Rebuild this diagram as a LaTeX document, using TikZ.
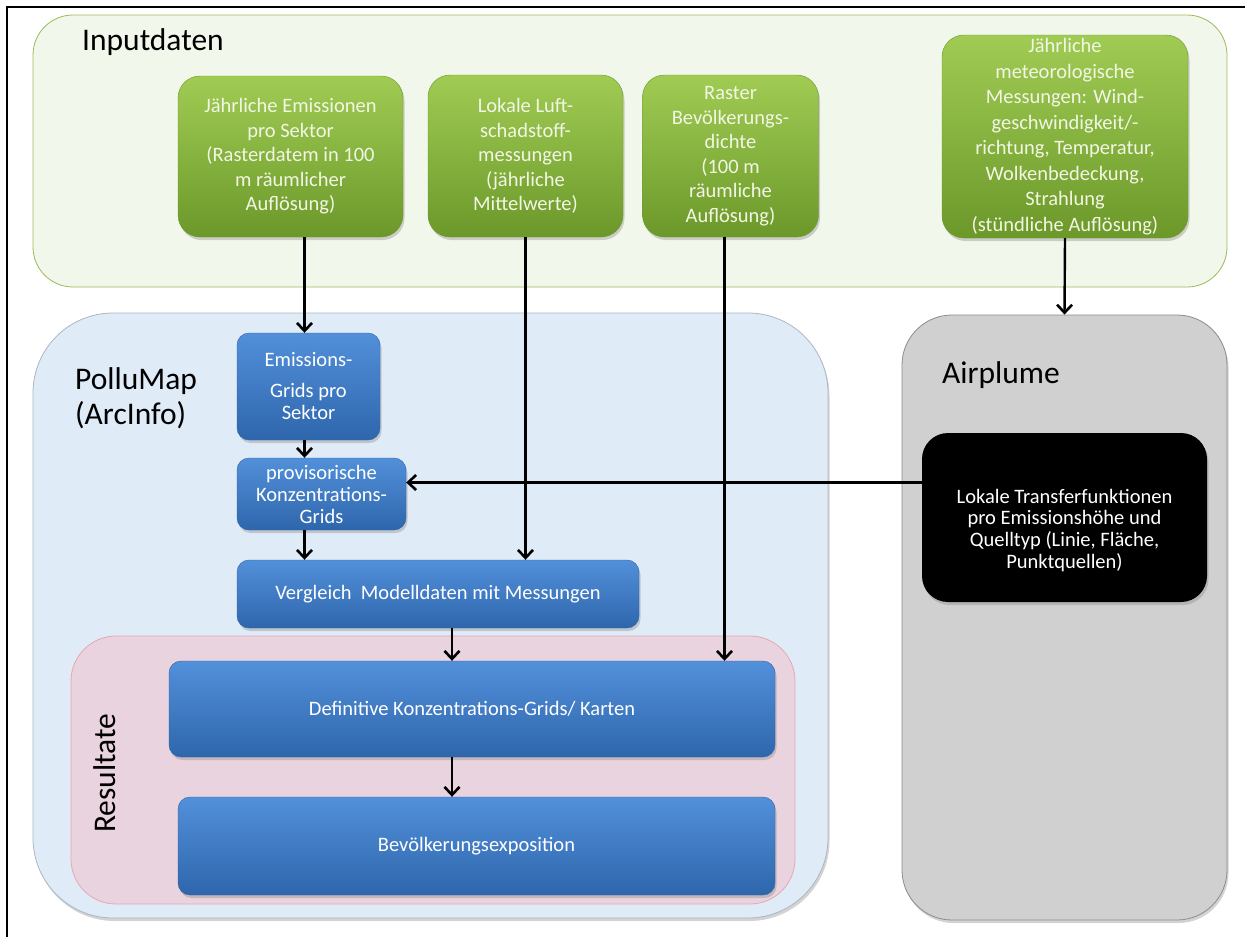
\documentclass[tikz,border=0pt]{standalone}
\usepackage{fontspec}
\setmainfont{Carlito}
\usepackage{tikz}
\usetikzlibrary{arrows.meta,shadows,backgrounds}
\definecolor{inCol}{RGB}{155,187,89}
\definecolor{inFill}{RGB}{242,247,236}
\definecolor{grnTop}{RGB}{160,204,84}
\definecolor{grnBot}{RGB}{108,152,42}
\definecolor{grnTxt}{RGB}{242,246,228}
\definecolor{bluTop}{RGB}{82,144,218}
\definecolor{bluBot}{RGB}{46,102,172}
\definecolor{bluLine}{RGB}{52,98,160}
\definecolor{pmFill}{RGB}{224,235,248}
\definecolor{pmLine}{RGB}{172,182,196}
\definecolor{apFill}{RGB}{208,208,208}
\definecolor{apLine}{RGB}{140,140,140}
\definecolor{resFill}{RGB}{233,211,222}
\definecolor{resLine}{RGB}{229,168,178}
\tikzset{
  panel/.style={draw, thick, inner sep=0pt, rounded corners=40pt},
  softshadow/.style={drop shadow={shadow xshift=1.5pt, shadow yshift=-3pt, opacity=0.35}},
  indata/.style={rounded corners=22pt, draw=grnBot, top color=grnTop, bottom color=grnBot,
                 text=grnTxt, align=center, inner sep=0pt, softshadow,
                 font=\fontsize{20.5}{24.5}\selectfont},
  calc/.style={rounded corners=12pt, draw=bluLine, top color=bluTop, bottom color=bluBot,
               text=white, align=center, inner sep=0pt, softshadow,
               font=\fontsize{20.5}{22}\selectfont},
  tfbox/.style={rounded corners=26pt, fill=black, text=white, align=center, inner sep=0pt,
                softshadow, font=\fontsize{20.5}{21.7}\selectfont},
  title/.style={font=\fontsize{31.5}{35}\selectfont, inner sep=0pt, align=left},
  arr/.style={-{Straight Barb[length=8pt,width=15pt,line width=2.6pt]}, line width=2.4pt},
}
\begin{document}
\begin{tikzpicture}[x=1pt,y=-1pt]
  \useasboundingbox (0,0) rectangle (1245,937);
  % Rahmen (oben, links)
  \draw[line width=2pt] (1245,7) -- (7,7) -- (7,937);

  % Gruppen
  \node[panel, draw=inCol, fill=inFill, minimum width=1194pt, minimum height=272pt] (inGrp) at (630,151) {};
  \node[panel, rounded corners=80pt, draw=pmLine, fill=pmFill, softshadow,
        minimum width=795pt, minimum height=605pt] (pmGrp) at (430.5,615.5) {};
  \node[panel, rounded corners=50pt, draw=apLine, fill=apFill, softshadow,
        minimum width=325pt, minimum height=605pt] (apGrp) at (1064.5,617.5) {};
  \node[panel, rounded corners=45pt, draw=resLine, fill=resFill,
        minimum width=724pt, minimum height=268pt] (resGrp) at (433,770) {};

  \node[title, anchor=west] (inLbl) at (82,42) {Inputdaten};
  \node[title, anchor=west] (pmLbl) at (75,398) {PolluMap\\(ArcInfo)};
  \node[title, anchor=west] (apLbl) at (942,375) {Airplume};
  \node[title, rotate=90] (resLbl) at (105,773) {Resultate};

  % Inputdaten
  \node[indata, minimum width=225pt, minimum height=161pt] (emiIn) at (290.5,156.5)
    {Jährliche Emissionen\\pro Sektor\\(Rasterdatem in 100\\m räumlicher\\Auflösung)};
  \node[indata, minimum width=195pt, minimum height=162pt] (luftIn) at (525.5,156)
    {Lokale Luft-\\schadstoff-\\messungen\\(jährliche\\Mittelwerte)};
  \node[indata, minimum width=176pt, minimum height=162pt] (rasterIn) at (730.5,156)
    {Raster\\Bevölkerungs-\\dichte\\(100 m\\räumliche\\Auflösung)};
  \node[indata, font=\fontsize{20.5}{25.5}\selectfont, minimum width=246pt, minimum height=203pt] (meteoIn) at (1065,136.5)
    {Jährliche\\meteorologische\\Messungen: Wind-\\geschwindigkeit/-\\richtung, Temperatur,\\Wolkenbedeckung,\\Strahlung\\(stündliche Auflösung)};

  % PolluMap
  \node[calc, minimum width=143pt, minimum height=107pt] (emiGrid) at (308.5,386.5)
    {Emissions-\\[9pt]Grids pro\\Sektor};
  \node[calc, minimum width=169pt, minimum height=72pt] (provGrid) at (321.5,494)
    {provisorische\\Konzentrations-\\Grids};
  \node[calc, minimum width=402pt, minimum height=68pt] (vergl) at (438,594)
    {Vergleich\ \ Modelldaten mit Messungen};
  \node[calc, minimum width=606pt, minimum height=96pt] (defGrid) at (472,709)
    {Definitive Konzentrations-Grids/ Karten};
  \node[calc, minimum width=597pt, minimum height=98pt] (expo) at (476.5,846)
    {Bevölkerungsexposition};

  % Airplume
  \node[tfbox, minimum width=285pt, minimum height=169pt] (transfer) at (1064.5,517.5)
    {\\[18pt]Lokale Transferfunktionen\\pro Emissionshöhe und\\Quelltyp (Linie, Fläche,\\Punktquellen)};

  % Pfeile
  \draw[arr] ([xshift=-4pt]emiIn.south -| emiGrid.north) -- ([xshift=-4pt]emiGrid.north);
  \draw[arr] ([xshift=-4pt]emiGrid.south) -- ([xshift=-4pt]emiGrid.south |- provGrid.north);
  \draw[arr] ([xshift=-4pt]provGrid.south -| emiGrid.south) -- ([xshift=-4pt]vergl.north -| emiGrid.south);
  \draw[arr] (luftIn.south) -- (luftIn.south |- vergl.north);
  \draw[arr] ([xshift=-6pt]rasterIn.south) -- ([xshift=-6pt]rasterIn.south |- defGrid.north);
  \draw[arr] ([xshift=14pt]vergl.south) -- ([xshift=14pt]vergl.south |- defGrid.north);
  \draw[arr] ([xshift=-20pt]defGrid.south) -- ([xshift=-20pt]defGrid.south |- expo.north);
  \draw[arr] (meteoIn.south) -- (apGrp.north);
  % Transferfunktionen -> provisorische Grids
  \draw[arr] ([yshift=35pt]transfer.west) -- ([yshift=35pt]transfer.west -| provGrid.east);
\end{tikzpicture}
\end{document}
